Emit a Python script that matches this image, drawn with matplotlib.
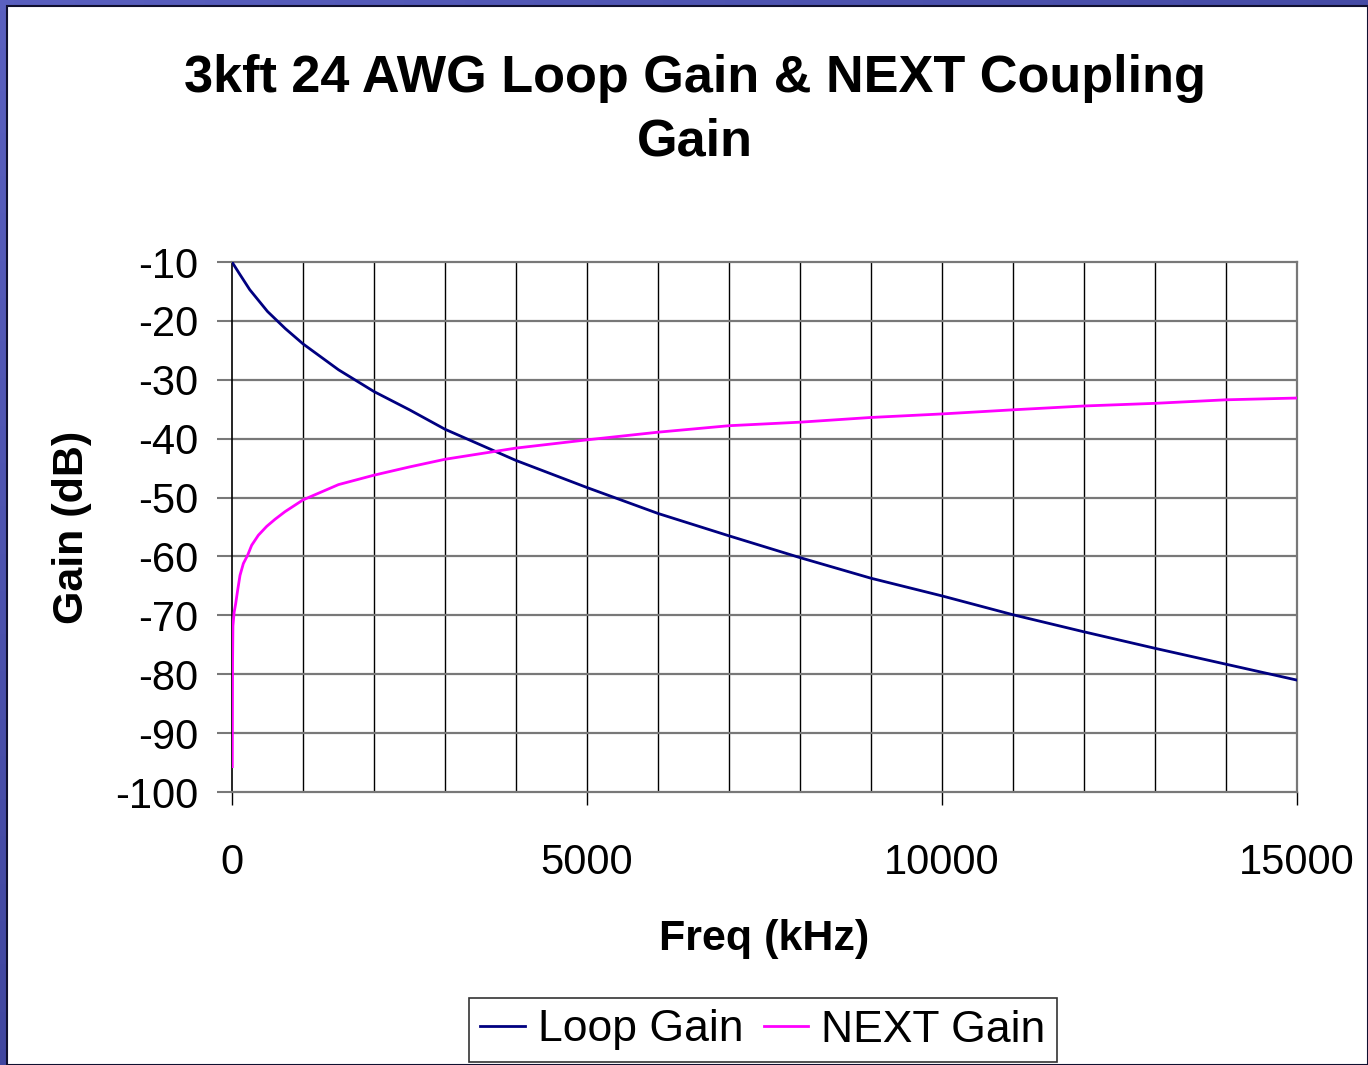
import numpy as np
import matplotlib
matplotlib.use("Agg")
import matplotlib.pyplot as plt
from matplotlib.patches import Rectangle
from matplotlib.colors import LinearSegmentedColormap

plt.rcParams['font.family'] = ['Liberation Sans', 'DejaVu Sans']
plt.rcParams['axes.unicode_minus'] = False

# Loop gain of 3 kft 24 AWG (dB) vs frequency (kHz)
freq_loop = [0, 100, 250, 500, 750, 1000, 1500, 2000, 2500, 3000, 4000, 5000,
             6000, 7000, 8000, 9000, 10000, 11000, 12000, 13000, 14000, 15000]
loop_gain = [-10.0, -11.9, -14.7, -18.4, -21.3, -23.9, -28.3, -32.0, -35.1, -38.4,
             -43.7, -48.3, -52.7, -56.5, -60.2, -63.7, -66.7, -69.9, -72.8,
             -75.6, -78.3, -81.0]

# NEXT coupling gain (dB) vs frequency (kHz)
freq_next = [4, 8, 13, 30, 52, 80, 113, 160, 220, 277, 371, 488, 605, 746,
             1000, 1500, 2000, 2500, 3000, 4000, 5000, 6000, 7000, 8000, 9000,
             10000, 11000, 12000, 13000, 14000, 15000]
next_gain = [-95.7, -78.1, -71.8, -69.5, -68.0, -65.7, -63.2, -61.2, -59.8,
             -58.1, -56.4, -54.9, -53.7, -52.4, -50.4, -47.8, -46.2, -44.8,
             -43.5, -41.6, -40.2, -38.9, -37.8, -37.2, -36.4, -35.8, -35.1,
             -34.45, -34.0, -33.4, -33.1]

series_names = ["Loop Gain", "NEXT Gain"]
title_text = "3kft 24 AWG Loop Gain & NEXT Coupling\nGain"

W, H = 1368, 1065
fig = plt.figure(figsize=(W / 100, H / 100), dpi=100)

# slide-style blue frame behind the white chart area
bg = fig.add_axes([0, 0, 1, 1], zorder=-10)
bg.set_axis_off()
yy, xx = np.mgrid[0:1:200j, 0:1:200j]
shade = np.clip(0.55 * yy + 0.45 * xx, 0, 1)
cmap = LinearSegmentedColormap.from_list("frame", ["#5a60c0", "#2c3286"])
bg.imshow(shade, cmap=cmap, extent=[0, 1, 0, 1], aspect='auto', origin='upper')
bg.add_patch(Rectangle((7 / W, 0), 1 - 7 / W, 1 - 6 / H, transform=bg.transAxes,
                       facecolor='white', edgecolor='#101030', linewidth=1.5))
bg.set_xlim(0, 1)
bg.set_ylim(0, 1)

ax = fig.add_axes([232 / W, 1 - 792 / H, (1297 - 232) / W, (792 - 262) / H])
ax.set_facecolor('none')

ax.plot(freq_loop, loop_gain, color='#000080', linewidth=2.0, label=series_names[0],
        zorder=3)
ax.plot(freq_next, next_gain, color='#ff00ff', linewidth=2.0, label=series_names[1],
        zorder=3)

ax.set_xlim(0, 15000)
ax.set_ylim(-100, -10)
ax.set_xticks([0, 5000, 10000, 15000])
ax.set_yticks(np.arange(-100, -9, 10))

# grid: black verticals every 1000 kHz, grey horizontals every 10 dB
for xv in np.arange(1000, 15000, 1000):
    ax.axvline(xv, color='black', linewidth=1.0, zorder=1)
for yv in np.arange(-90, -10, 10):
    ax.axhline(yv, color='#787878', linewidth=1.6, zorder=1)

for side in ['top', 'bottom', 'right']:
    ax.spines[side].set_color('#787878')
    ax.spines[side].set_linewidth(1.6)
ax.spines['left'].set_color('black')
ax.spines['left'].set_linewidth(1.2)

ax.tick_params(axis='y', which='major', length=11, width=1.5, color='#787878',
               pad=13, labelsize=30)
ax.tick_params(axis='x', which='major', length=9.5, width=1.0, color='black',
               pad=27, labelsize=30)

ax.set_xlabel("Freq (kHz)", fontsize=31, fontweight='bold', labelpad=26)
ax.set_ylabel("Gain (dB)", fontsize=31, fontweight='bold', labelpad=17)

fig.text(695 / W, 1 - 110 / H, title_text, ha='center', va='center',
         fontsize=37.6, fontweight='bold', linespacing=1.38)

leg = fig.legend(loc='center', bbox_to_anchor=(763 / W, 1 - 1030 / H), ncol=2,
                 fontsize=32, frameon=True, fancybox=False, edgecolor='black',
                 handlelength=1.0, handletextpad=0.3, columnspacing=0.45,
                 borderpad=0.25, borderaxespad=0)
leg.get_frame().set_linewidth(1.2)
for line in leg.get_lines():
    line.set_linewidth(2.0)

fig.savefig("out.png", dpi=100)
